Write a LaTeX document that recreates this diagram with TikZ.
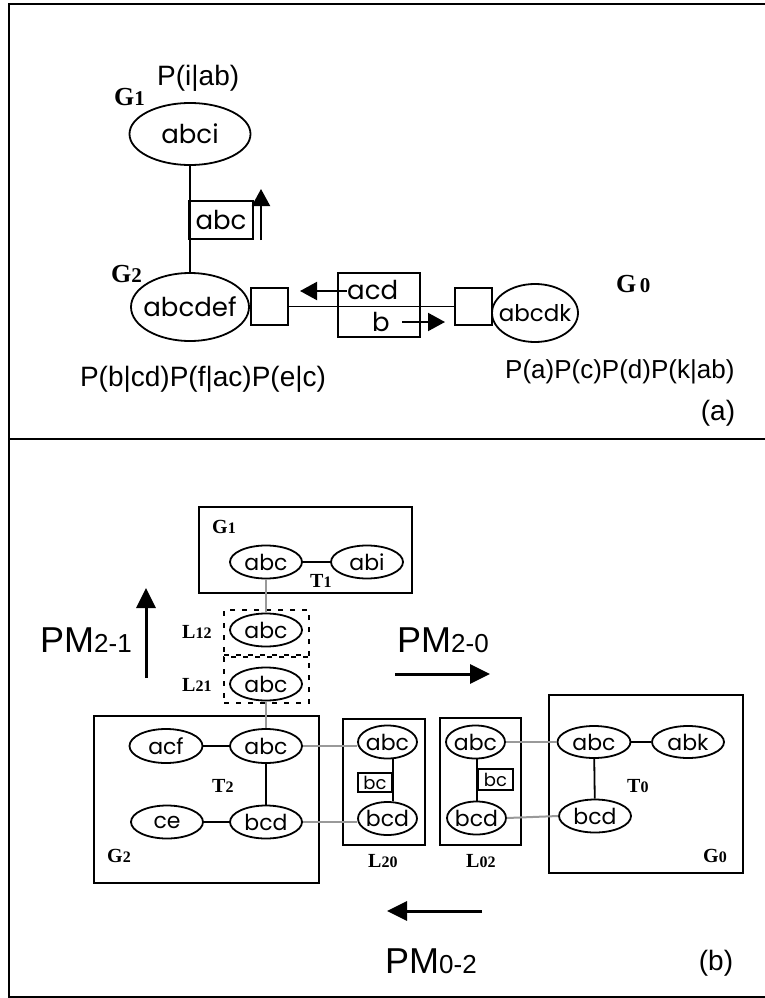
\documentclass[tikz,border=0pt]{standalone}
\usepackage{fontspec}
\setmainfont{Liberation Sans}
\newfontfamily\nlfont{Poppins}
\newfontfamily\lbfont{Liberation Serif}
\usetikzlibrary{shapes.geometric,arrows.meta}
\newcommand\fsz[1]{\fontsize{#1}{#1}\selectfont}
\newcommand\ct[1]{\makebox[0pt]{#1}}
\newcommand\toplab[2]{{\lbfont\bfseries{\fsz{26}#1}{\fsz{21}#2}}}
\newcommand\botlab[2]{{\lbfont\bfseries{\fsz{20}#1}{\fsz{16}#2}}}
\tikzset{
  ell/.style 2 args={ellipse, draw, line width=1.8pt, inner sep=0pt, minimum width=#1, minimum height=#2},
  bx/.style 2 args={draw, line width=1.8pt, inner sep=0pt, minimum width=#1, minimum height=#2},
  tnode/.style={font=\nlfont\fsz{26}},
  bnode/.style={font=\nlfont\fsz{22}},
  lab/.style={anchor=base west, inner sep=0pt},
  blk/.style={line width=1.8pt},
  gry/.style={line width=2pt, color=black!40},
  dsh/.style={draw, line width=1.8pt, dash pattern=on 5pt off 7pt, inner sep=0pt},
  bigarrow/.style={line width=3pt, -{Triangle[length=20pt,width=19pt]}},
  smallarrow/.style={line width=2pt, -{Triangle[length=17pt,width=18pt]}},
}
\begin{document}
\begin{tikzpicture}[x=1pt,y=-1pt]
\useasboundingbox (0,0) rectangle (765,998);
% frame
\draw[line width=2pt] (765,4) -- (9,4) -- (9,997) -- (765,997);
\draw[line width=2pt] (9,439) -- (765,439);

% ---------- panel (a)
\node[lab, font=\fsz{28}] (pi) at (157,85) {P(i|ab)};
\node[lab] (ga1) at (114,105) {\toplab{G}{1}};
\node[ell={121}{62}, tnode] (abci) at (190,134) {\ct{abci}};
\node[ell={118}{68}, tnode] (abcdef) at (190,307) {\ct{abcdef}};
\node[lab] (ga2) at (111,282) {\toplab{G}{2}};
\node[bx={64}{38}, tnode] (sepa) at (221,220) {\ct{abc}};
\draw[blk] (abci.south) -- (abcdef.north);
\coordinate (upa) at (261,240);
\coordinate (upb) at (261,189);
\draw[smallarrow] (upa) -- (upb);

\node[bx={37}{37}] (lsq) at (269.5,306.5) {};
\node[bx={37}{37}] (rsq) at (473.5,306.5) {};
\node[bx={82}{64}] (bigbox) at (379,305) {};
\draw[blk] (lsq.east) -- (rsq.west);
\node[anchor=base west, inner sep=0pt, tnode] (acd) at (347,299) {acd};
\node[anchor=base, inner sep=0pt, tnode] (bb) at (381,331) {b};
\coordinate (la) at (347,291);
\coordinate (lb) at (300,291);
\draw[smallarrow] (la) -- (lb);
\coordinate (ra) at (402,322);
\coordinate (rb) at (445,322);
\draw[smallarrow] (ra) -- (rb);
\node[ell={86}{58}, font=\nlfont\fsz{23}] (abcdk) at (535,313) {\ct{abcdk}};
\node[lab] (ga0) at (616,292) {\toplab{G}{\,0}};
\node[anchor=base, inner sep=0pt, font=\fsz{28}] (pl) at (203,386) {P(b|cd)P(f|ac)P(e|c)};
\node[lab, font=\fsz{26}] (pr) at (505,378) {P(a)P(c)P(d)P(k|ab)};
\node[anchor=base, inner sep=0pt, font=\fsz{28}] (lba) at (718,420) {(a)};

% ---------- panel (b)
\node[bx={213}{86}] (g1box) at (305.5,550) {};
\node[lab] (gb1) at (212,533) {\botlab{G}{1}};
\node[ell={72}{33}, bnode] (t1abc) at (266,562) {\ct{abc}};
\node[ell={72}{33}, bnode] (t1abi) at (367,562) {\ct{abi}};
\draw[blk] (t1abc) -- (t1abi);
\node[lab] (t1) at (310,587) {\botlab{T}{1}};

\node[dsh, minimum width=85, minimum height=45] (l12box) at (266.5,632.5) {};
\node[dsh, minimum width=85, minimum height=46] (l21box) at (266.5,680) {};
\node[ell={72}{33}, bnode] (l12abc) at (266,630) {\ct{abc}};
\node[ell={72}{33}, bnode] (l21abc) at (266,684) {\ct{abc}};
\node[lab] (l12) at (182,638) {\botlab{L}{12}};
\node[lab] (l21) at (182,691) {\botlab{L}{21}};
\draw[gry] (t1abc.south) -- (l12abc.north);

\node[bx={225}{167}] (g2box) at (206.5,799.5) {};
\node[ell={73}{34}, bnode] (g2acf) at (166,746) {\ct{acf}};
\node[ell={72}{34}, bnode] (g2abc) at (266,746) {\ct{abc}};
\node[ell={72}{33}, bnode] (g2ce) at (167,822) {\ct{ce}};
\node[ell={72}{33}, bnode] (g2bcd) at (266,822) {\ct{bcd}};
\draw[gry] (l21abc.south) -- (g2abc.north);
\draw[blk] (g2acf) -- (g2abc);
\draw[blk] (g2ce) -- (g2bcd);
\draw[blk] (g2abc) -- (g2bcd);
\node[lab] (t2) at (212,792) {\botlab{T}{2}};
\node[lab] (gb2) at (107,862) {\botlab{G}{2}};

\node[bx={82}{126}] (l20box) at (384,782) {};
\node[ell={59}{33}, bnode] (l20abc) at (387.5,742) {\ct{abc}};
\node[bx={34}{19}, font=\nlfont\fsz{18}] (l20bc) at (375,782.5) {\ct{bc}};
\node[ell={59}{33}, bnode] (l20bcd) at (387.5,818.5) {\ct{bcd}};
\draw[blk] (l20bc.east |- l20abc.south) -- (l20bc.east |- l20bcd.north);
\node[lab] (l20) at (368,867) {\botlab{L}{20}};

\node[bx={81}{127}] (l02box) at (480.5,781.5) {};
\node[ell={59}{33}, bnode] (l02abc) at (475.5,742) {\ct{abc}};
\node[bx={35}{21}, font=\nlfont\fsz{18}] (l02bc) at (495.5,779.5) {\ct{bc}};
\node[ell={59}{33}, bnode] (l02bcd) at (476.5,818) {\ct{bcd}};
\draw[blk] (l02bc.west |- l02abc.south) -- (l02bc.west |- l02bcd.north);
\node[lab] (l02) at (466,867) {\botlab{L}{02}};

\node[bx={194}{178}] (g0box) at (646,784) {};
\node[ell={73}{32}, bnode] (g0abc) at (594,742) {\ct{abc}};
\node[ell={72}{32}, bnode] (g0abk) at (688,742) {\ct{abk}};
\node[ell={72}{33}, bnode] (g0bcd) at (595,816) {\ct{bcd}};
\draw[blk] (g0abc) -- (g0abk);
\draw[blk] (g0abc) -- (g0bcd);
\node[lab] (t0) at (627,792) {\botlab{T}{0}};
\node[lab] (gb0) at (703,862) {\botlab{G}{0}};

\draw[gry] (g2abc.east) -- (g2abc.east -| l20abc.west);
\draw[gry] (g2bcd.east) -- (g2bcd.east -| l20bcd.west);
\draw[gry] (l02abc.east) -- (g0abc.west);
\draw[gry] (l02bcd.east) -- (g0bcd.west);

% PM arrows and labels
\node[lab, font=\fsz{36}] (pm21) at (40,652) {PM{\fsz{26}2-1}};
\coordinate (pm21a) at (146,678);
\coordinate (pm21b) at (146,588);
\draw[bigarrow] (pm21a) -- (pm21b);
\node[lab, font=\fsz{36}] (pm20) at (397,652) {PM{\fsz{26}2-0}};
\coordinate (pm20a) at (395,674);
\coordinate (pm20b) at (490,674);
\draw[bigarrow] (pm20a) -- (pm20b);
\node[lab, font=\fsz{36}] (pm02) at (385,973) {PM{\fsz{26}0-2}};
\coordinate (pm02a) at (482,911);
\coordinate (pm02b) at (387,911);
\draw[bigarrow] (pm02a) -- (pm02b);
\node[anchor=base, inner sep=0pt, font=\fsz{28}] (lbb) at (716,970) {(b)};
\end{tikzpicture}
\end{document}
